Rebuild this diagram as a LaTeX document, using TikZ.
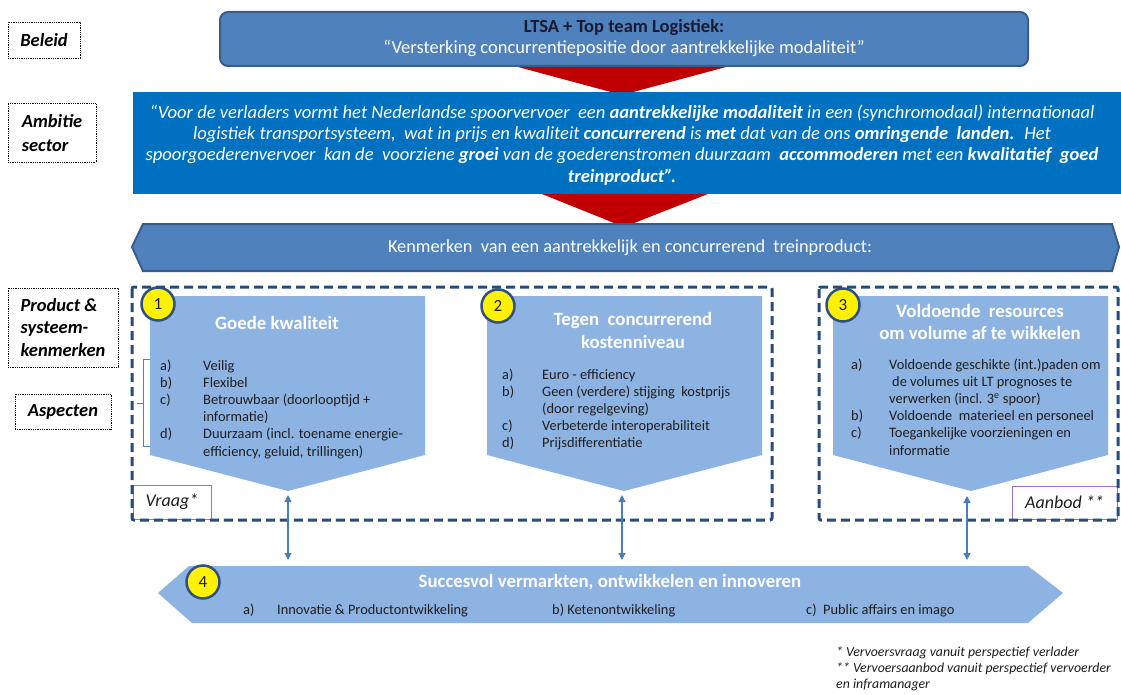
\documentclass[tikz,border=0pt]{standalone}
\usepackage{fontspec}
\setmainfont{Carlito}
\usetikzlibrary{arrows.meta}
\definecolor{ltsablue}{HTML}{4F81BD}
\definecolor{ltsaedge}{HTML}{385D8A}
\definecolor{ambblue}{HTML}{0070C0}
\definecolor{redarrow}{HTML}{C00000}
\definecolor{panelblue}{HTML}{8DB3E2}
\definecolor{dashblue}{HTML}{264B7C}
\definecolor{circedge}{HTML}{2F5080}
\definecolor{arrowblue}{HTML}{4A7EBB}
\definecolor{boxpurple}{HTML}{9B6FCF}
\definecolor{darktext}{HTML}{1E1E1E}
\definecolor{titledark}{HTML}{1A1A33}
\begin{document}
\begin{tikzpicture}[x=1pt,y=-1pt,
  labelbox/.style={draw=black, densely dotted, line width=0.8pt, fill=white, inner sep=0pt, align=left,
    font=\fontsize{18.5}{22.5}\selectfont\bfseries\itshape, text=black},
  numcirc/.style={circle, fill=yellow, draw=circedge, line width=2.5pt, minimum size=33pt, inner sep=0pt,
    font=\fontsize{17}{17}\selectfont, text=darktext},
  paneltitle/.style={font=\fontsize{18.8}{22.5}\selectfont\bfseries, text=white, align=center, inner sep=0pt},
  itemlist/.style={anchor=base west, inner sep=0pt, font=\fontsize{14.4}{17.1}\selectfont, text=darktext},
  dashbox/.style={draw=dashblue, line width=3pt, dash pattern=on 9pt off 5pt, rounded corners=2pt},
  purplebox/.style={draw=boxpurple, line width=0.8pt, inner sep=0pt, font=\fontsize{18}{18}\selectfont\itshape, text=darktext},
  dblarrow/.style={draw=arrowblue, line width=1.3pt, {Triangle[length=7pt,width=7pt]}-{Triangle[length=7pt,width=7pt]}},
  panel/.style={fill=panelblue},
  note/.style={anchor=base west, inner sep=0pt, font=\fontsize{13.8}{17}\selectfont\itshape, text=darktext}
]
\useasboundingbox (0,0) rectangle (1121,695);
\fill[white] (0,0) rectangle (1121,695);

% red chevrons
\fill[redarrow] (492,60) -- (752,60) -- (622,95) -- cycle;
\fill[redarrow] (532,190) -- (718,190) -- (624,227) -- cycle;

% top box
\node[draw=ltsaedge, line width=2pt, fill=ltsablue, rounded corners=8pt, minimum width=808pt, minimum height=54pt,
  inner sep=0pt] (ltsa) at (624,39) {};
\node[align=center, inner sep=0pt, font=\fontsize{18.5}{21}\selectfont] (ltsatext) at (624,38.5)
  {\textcolor{titledark}{\bfseries LTSA + Top team Logistiek:}\\
   \textcolor{white}{“Versterking concurrentiepositie door aantrekkelijke modaliteit”}};

% ambitie box
\node[fill=ambblue, minimum width=988pt, minimum height=102pt, inner sep=0pt] (amb) at (627,143) {};
\node[align=center, inner sep=0pt, text=white, font=\fontsize{18.6}{21.3}\selectfont\itshape] (ambtext) at (622,145)
  {“Voor de verladers vormt het Nederlandse spoorvervoer~ een \textbf{aantrekkelijke modaliteit} in een (synchromodaal) internationaal\\
   logistiek transportsysteem,~ wat in prijs en kwaliteit \textbf{concurrerend} is \textbf{met} dat van de ons \textbf{omringende~ landen.}~ Het\\
   spoorgoederenvervoer~ kan de~ voorziene \textbf{groei} van de goederenstromen duurzaam~ \textbf{accommoderen} met een \textbf{kwalitatief~ goed}\\
   \textbf{treinproduct”.}};

% kenmerken banner
\draw[fill=ltsablue, draw=ltsaedge, line width=2pt, line join=miter]
  (132,247) -- (143,224) -- (1112,224) -- (1119,247) -- (1112,271) -- (143,271) -- cycle;
\node[inner sep=0pt, text=white, font=\fontsize{18.3}{20}\selectfont] (kenm) at (630,248)
  {Kenmerken~ van een aantrekkelijk en concurrerend~ treinproduct:};

% left labels
\node[labelbox, minimum width=72pt, minimum height=36pt] (beleid) at (44,40) {Beleid};
\node[labelbox, minimum width=88pt, minimum height=59pt, font=\fontsize{18.5}{24}\selectfont\bfseries\itshape] (ambitie) at (52,133) {Ambitie\\sector};
\node[labelbox, minimum width=110pt, minimum height=79pt] (product) at (63,327.5) {Product \&\\systeem-\\kenmerken};
\node[labelbox, minimum width=96pt, minimum height=35pt] (aspecten) at (63,411.5) {Aspecten};

% panels
\fill[panel] (150,296) -- (425,296) -- (425,455) -- (288,491) -- (150,455) -- cycle;
\fill[panel] (487,296) -- (762,296) -- (762,455) -- (624,491) -- (487,455) -- cycle;
\fill[panel] (833,296) -- (1108,296) -- (1108,455) -- (971,491) -- (833,455) -- cycle;
\coordinate (tip1) at (288,491);
\coordinate (tip2) at (622,491);
\coordinate (tip3) at (967,491);

% bracket
\draw[ltsablue, line width=0.8pt] (150,359) -- (143,359) -- (143,446) -- (150,446);
\draw[ltsablue, line width=0.8pt] (143,403) -- (137,403);

% panel titles
\node[paneltitle] (title1) at (277,323) {Goede kwaliteit};
\node[paneltitle] (title2) at (633,330.5) {Tegen~ concurrerend\\kostenniveau};
\node[paneltitle] (title3) at (980,322) {Voldoende~ resources\\om volume af te wikkelen};

% items
\node[itemlist] (list1) at (160,370.5) {\begin{tabular}[t]{@{}p{43pt}@{}l@{}}
a) & Veilig\\ b) & Flexibel\\ c) & Betrouwbaar (doorlooptijd +\\ & informatie)\\
d) & Duurzaam (incl. toename energie-\\ & efficiency, geluid, trillingen)\end{tabular}};
\node[itemlist] (list2) at (502,379.5) {\begin{tabular}[t]{@{}p{40pt}@{}l@{}}
a) & Euro - efficiency\\ b) & Geen (verdere) stijging~ kostprijs\\ & (door regelgeving)\\
c) & Verbeterde interoperabiliteit\\ d) & Prijsdifferentiatie\end{tabular}};
\node[itemlist] (list3) at (851,369.5) {\begin{tabular}[t]{@{}p{38pt}@{}l@{}}
a) & Voldoende geschikte (int.)paden om\\ & \hspace{3pt}de volumes uit LT prognoses te\\ & verwerken (incl. 3\textsuperscript{e} spoor)\\
b) & Voldoende~ materieel en personeel\\ c) & Toegankelijke voorzieningen en\\ & informatie\end{tabular}};

% number circles 1-3
\node[numcirc] (n1) at (158,304) {1};
\node[numcirc] (n2) at (498,306) {2};
\node[numcirc] (n3) at (843,305) {3};

% vraag / aanbod
\node[purplebox, minimum width=78pt, minimum height=34pt] (vraag) at (172,502) {Vraag*};
\node[purplebox, minimum width=105pt, minimum height=33pt] (aanbod) at (1064.5,502.5) {Aanbod **};

% dashed groups
\draw[dashbox] (132,287) rectangle (772,520);
\draw[dashbox] (819,287) rectangle (1118,520);

% bottom banner
\fill[panel] (158,593) -- (189,566) -- (1028,566) -- (1063,593) -- (1028,623) -- (192,623) -- cycle;
\coordinate (top1) at (288,566);
\coordinate (top2) at (622,566);
\coordinate (top3) at (967,566);
\node[numcirc] (n4) at (203,582) {4};
\node[paneltitle] (title4) at (610,582) {Succesvol vermarkten, ontwikkelen en innoveren};
\node[itemlist] (i4a) at (243,614.5) {a)};
\node[itemlist] (i4a2) at (277,614.5) {Innovatie \& Productontwikkeling};
\node[itemlist] (i4b) at (552,614.5) {b) Ketenontwikkeling};
\node[itemlist] (i4c) at (806,614.5) {c)~ Public affairs en imago};

% connectors
\draw[dblarrow, shorten <=4pt, shorten >=6pt] (tip1) -- (top1);
\draw[dblarrow, shorten <=4pt, shorten >=6pt] (tip2) -- (top2);
\draw[dblarrow, shorten <=5pt, shorten >=6pt] (tip3) -- (top3);

% footnotes
\node[note] (f1) at (836,656) {* Vervoersvraag vanuit perspectief verlader};
\node[note] (f2) at (836,672.5) {** Vervoersaanbod vanuit perspectief vervoerder};
\node[note] (f3) at (836,688.5) {en inframanager};
\end{tikzpicture}
\end{document}
